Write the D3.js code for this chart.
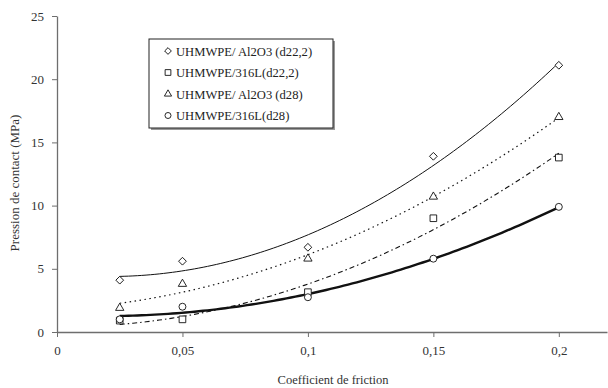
<!DOCTYPE html>
<html>
<head>
<meta charset="utf-8">
<script src="https://cdn.jsdelivr.net/npm/d3@7"></script>
<style>
  body { margin: 0; background: #fff; }
  svg { font-family: "Liberation Serif", "DejaVu Serif", serif; }
</style>
</head>
<body>
<div id="chart"></div>
<script>
// Data
const frictions = [0.025, 0.05, 0.1, 0.15, 0.2];
const al2o3_d222 = [4.1, 5.6, 6.7, 13.9, 21.1];
const s316l_d222 = [0.9, 1.0, 3.15, 9.0, 13.8];
const al2o3_d28 = [1.9, 3.8, 5.8, 10.7, 17.0];
const s316l_d28 = [1.0, 2.0, 2.75, 5.8, 9.9];
const seriesNames = ["UHMWPE/ Al2O3 (d22,2)", "UHMWPE/316L(d22,2)", "UHMWPE/ Al2O3 (d28)", "UHMWPE/316L(d28)"];
const xTicks = [0, 0.05, 0.1, 0.15, 0.2];
const yTicks = [0, 5, 10, 15, 20, 25];

const width = 608, height = 388;
const margin = { top: 16, right: 1, bottom: 56, left: 57 };

const svg = d3.select("#chart").append("svg")
    .attr("width", width)
    .attr("height", height);

const x = d3.scaleLinear().domain([0, 0.2192]).range([margin.left, width - margin.right]);
const y = d3.scaleLinear().domain([0, 25]).range([height - margin.bottom, margin.top]);

// Quadratic least-squares trend line (like Excel's polynomial trendline)
function quadFit(xs, ys) {
    let s = [0, 0, 0, 0, 0], t = [0, 0, 0];
    xs.forEach((xi, i) => {
        for (let k = 0; k < 5; k++) s[k] += Math.pow(xi, k);
        for (let k = 0; k < 3; k++) t[k] += ys[i] * Math.pow(xi, k);
    });
    const A = [[s[0], s[1], s[2], t[0]], [s[1], s[2], s[3], t[1]], [s[2], s[3], s[4], t[2]]];
    for (let i = 0; i < 3; i++) {
        for (let j = i + 1; j < 3; j++) {
            const f = A[j][i] / A[i][i];
            for (let k = i; k < 4; k++) A[j][k] -= f * A[i][k];
        }
    }
    const c = [0, 0, 0];
    for (let i = 2; i >= 0; i--) {
        let v = A[i][3];
        for (let k = i + 1; k < 3; k++) v -= A[i][k] * c[k];
        c[i] = v / A[i][i];
    }
    return xv => c[0] + c[1] * xv + c[2] * xv * xv;
}

const series = [
    { name: seriesNames[0], values: al2o3_d222, symbol: d3.symbolSquare, rot: 45, size: 30, dash: null, lw: 1 },
    { name: seriesNames[1], values: s316l_d222, symbol: d3.symbolSquare, rot: 0, size: 44, dash: "5,3,1.5,3", lw: 1.1 },
    { name: seriesNames[2], values: al2o3_d28, symbol: d3.symbolTriangle, rot: 0, size: 30, dash: "1.5,3.5", lw: 1.2 },
    { name: seriesNames[3], values: s316l_d28, symbol: d3.symbolCircle, rot: 0, size: 38, dash: null, lw: 2.4 }
];

// Axes
const axisColor = "#6e6e6e";
const xAxis = svg.append("g")
    .attr("transform", `translate(0,${y(0)})`)
    .call(d3.axisBottom(x).tickValues(xTicks).tickSize(5).tickSizeOuter(0)
        .tickFormat(d => d === 0 ? "0" : String(d).replace(".", ",")));
xAxis.select(".domain").attr("stroke", axisColor).attr("stroke-width", 1.3);
xAxis.selectAll(".tick line").attr("stroke", axisColor);
xAxis.selectAll(".tick text").attr("y", 14).attr("dy", "0.71em").attr("font-size", 13)
    .attr("font-family", "Liberation Serif").attr("fill", "#333");

const yAxis = svg.append("g")
    .attr("transform", `translate(${x(0)},0)`)
    .call(d3.axisLeft(y).tickValues(yTicks).tickSize(5).tickSizeOuter(0));
yAxis.select(".domain").attr("stroke", axisColor).attr("stroke-width", 1.3);
yAxis.selectAll(".tick line").attr("stroke", axisColor);
yAxis.selectAll(".tick text").attr("x", -13).attr("font-size", 13)
    .attr("font-family", "Liberation Serif").attr("fill", "#333");

// Axis titles
svg.append("text")
    .attr("x", 333)
    .attr("y", 384)
    .attr("text-anchor", "middle")
    .attr("font-size", 12.5)
    .attr("fill", "#333")
    .text("Coefficient de friction");

svg.append("text")
    .attr("transform", `translate(19,183) rotate(-90)`)
    .attr("text-anchor", "middle")
    .attr("font-size", 13)
    .attr("fill", "#333")
    .text("Pression de contact (MPa)");

// Trend lines
const line = d3.line().x(d => x(d[0])).y(d => y(d[1]));
series.forEach(s => {
    const f = quadFit(frictions, s.values);
    const pts = d3.range(0, 101).map(i => {
        const xv = frictions[0] + (frictions[frictions.length - 1] - frictions[0]) * i / 100;
        return [xv, f(xv)];
    });
    svg.append("path")
        .datum(pts)
        .attr("d", line)
        .attr("fill", "none")
        .attr("stroke", "#111")
        .attr("stroke-width", s.lw)
        .attr("stroke-dasharray", s.dash);
});

// Markers
series.forEach(s => {
    svg.selectAll(null)
        .data(frictions.map((f, i) => [f, s.values[i]]))
        .enter().append("path")
        .attr("transform", d => `translate(${x(d[0])},${y(d[1])}) rotate(${s.rot})`)
        .attr("d", d3.symbol().type(s.symbol).size(s.size))
        .attr("fill", "#fff")
        .attr("stroke", "#111")
        .attr("stroke-width", 0.9);
});

// Legend
const lg = svg.append("g").attr("transform", "translate(149,39)");
lg.append("rect").attr("x", 2).attr("y", 2).attr("width", 184).attr("height", 89).attr("fill", "#999");
lg.append("rect").attr("width", 184).attr("height", 89).attr("fill", "#fff").attr("stroke", "#222").attr("stroke-width", 1);
series.forEach((s, i) => {
    const yy = 12 + i * 21.5;
    lg.append("path")
        .attr("transform", `translate(19,${yy}) rotate(${s.rot})`)
        .attr("d", d3.symbol().type(s.symbol).size(s.size * 0.75))
        .attr("fill", "#fff")
        .attr("stroke", "#111")
        .attr("stroke-width", 0.9);
    lg.append("text")
        .attr("x", 27)
        .attr("y", yy + 4.5)
        .attr("font-size", 12.6)
        .attr("fill", "#222")
        .text(s.name);
});
</script>
</body>
</html>
